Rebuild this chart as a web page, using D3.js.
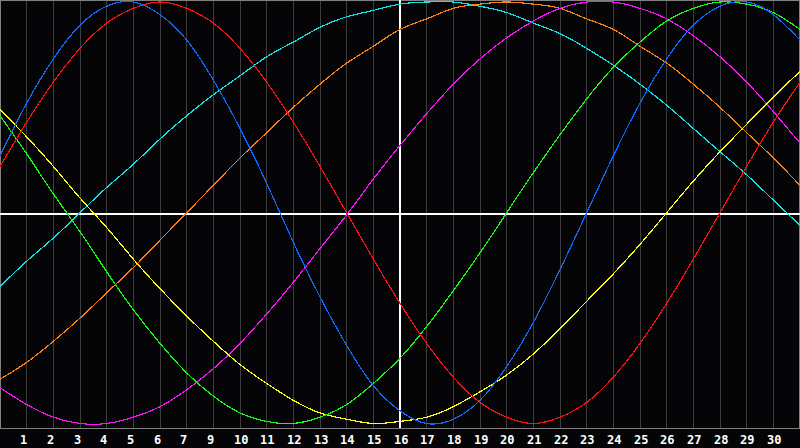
<!DOCTYPE html>
<html>
<head>
<meta charset="utf-8">
<script src="https://cdn.jsdelivr.net/npm/d3@7"></script>
<style>
  html, body { margin: 0; padding: 0; background: #050508; }
  svg { display: block; }
</style>
</head>
<body>
<svg width="800" height="448"></svg>
<script>
var svg = d3.select("svg");
var width = +svg.attr("width"),
    height = +svg.attr("height");
var plotBottom = 428;

// day index 0..30 along the x axis
var days = d3.range(0, 31);

// tick labels under gridlines 1..29 (the chart skips "8")
var tickLabels = ["1","2","3","4","5","6","7","9","10","11","12","13","14","15",
  "16","17","18","19","20","21","22","23","24","25","26","27","28","29","30"];

// values in percent, one per day
var blue    = [27,52,73,89,98,100,94,82,63,40,14,-14,-40,-63,-82,-94,-100,-98,-89,-73,-52,-27,0,27,52,73,89,98,100,94,82];
var red     = [22,43,62,78,90,97,100,97,90,78,62,43,22,0,-22,-43,-62,-78,-90,-97,-100,-97,-90,-78,-62,-43,-22,0,22,43,62];
var green   = [46,28,9,-9,-28,-46,-62,-76,-87,-95,-99,-100,-97,-91,-81,-69,-54,-37,-19,0,19,37,54,69,81,91,97,100,99,95,87];
var yellow  = [49,36,22,7,-7,-22,-36,-49,-61,-72,-81,-89,-95,-98,-100,-99,-97,-92,-85,-77,-67,-55,-42,-29,-15,0,15,29,42,55,67];
var magenta = [-83,-91,-97,-100,-100,-97,-92,-84,-74,-62,-48,-33,-17,-1,16,32,47,61,73,83,91,97,100,100,97,92,84,74,62,48,33];
var orange  = [-79,-71,-61,-50,-38,-26,-13,0,13,26,38,50,61,71,79,87,92,97,99,100,99,97,92,87,79,71,61,50,38,26,13];
var cyan    = [-35,-23,-12,0,12,23,35,46,56,65,74,81,88,93,96,99,100,100,98,95,90,85,78,70,61,51,40,29,18,6,-6];

var series = [
  {name: "cyan",    values: cyan,    color: "#10e4e4"},
  {name: "orange",  values: orange,  color: "#ff8010"},
  {name: "magenta", values: magenta, color: "#ff10ff"},
  {name: "yellow",  values: yellow,  color: "#ffff10"},
  {name: "green",   values: green,   color: "#10ff10"},
  {name: "red",     values: red,     color: "#ff1010"},
  {name: "blue",    values: blue,    color: "#1068ff"}
];

var x = d3.scaleLinear().domain([0, 30]).range([0, 800]);
var y = d3.scaleLinear().domain([-100, 100]).range([423.5, 2]);

// vertical day gridlines
svg.append("g")
    .attr("class", "grid")
  .selectAll("line")
  .data(d3.range(1, 30))
  .enter().append("line")
    .attr("x1", function(d) { return Math.floor(x(d)) + 0.5; })
    .attr("x2", function(d) { return Math.floor(x(d)) + 0.5; })
    .attr("y1", 0)
    .attr("y2", plotBottom)
    .attr("stroke", "#3e3e3e")
    .attr("stroke-width", 1);

// frame
svg.append("rect")
    .attr("x", 0.5)
    .attr("y", 0.5)
    .attr("width", width - 1)
    .attr("height", plotBottom)
    .attr("fill", "none")
    .attr("stroke", "#808080")
    .attr("stroke-width", 1);

// white centre cross
svg.append("line")
    .attr("x1", 0).attr("x2", width)
    .attr("y1", 214).attr("y2", 214)
    .attr("stroke", "#ffffff")
    .attr("stroke-width", 2);

svg.append("line")
    .attr("x1", x(15)).attr("x2", x(15))
    .attr("y1", 0).attr("y2", plotBottom)
    .attr("stroke", "#ffffff")
    .attr("stroke-width", 2);

var line = d3.line()
    .x(function(d, i) { return x(days[i]); })
    .y(function(d) { return y(d); })
    .curve(d3.curveNatural);

svg.append("g")
    .attr("class", "curves")
  .selectAll("path")
  .data(series)
  .enter().append("path")
    .attr("d", function(s) { return line(s.values); })
    .attr("fill", "none")
    .attr("stroke", function(s) { return s.color; })
    .attr("stroke-width", 1.2)
    .attr("shape-rendering", "crispEdges");

// day labels
svg.append("g")
    .attr("class", "labels")
  .selectAll("text")
  .data(tickLabels)
  .enter().append("text")
    .attr("x", function(d, i) { return Math.floor(x(i + 1)) - 6; })
    .attr("y", 444)
    .attr("fill", "#ffffff")
    .attr("font-family", "DejaVu Sans Mono, monospace")
    .attr("font-weight", "bold")
    .attr("font-size", "12px")
    .attr("text-anchor", "start")
    .text(function(d) { return d; });
</script>
</body>
</html>
